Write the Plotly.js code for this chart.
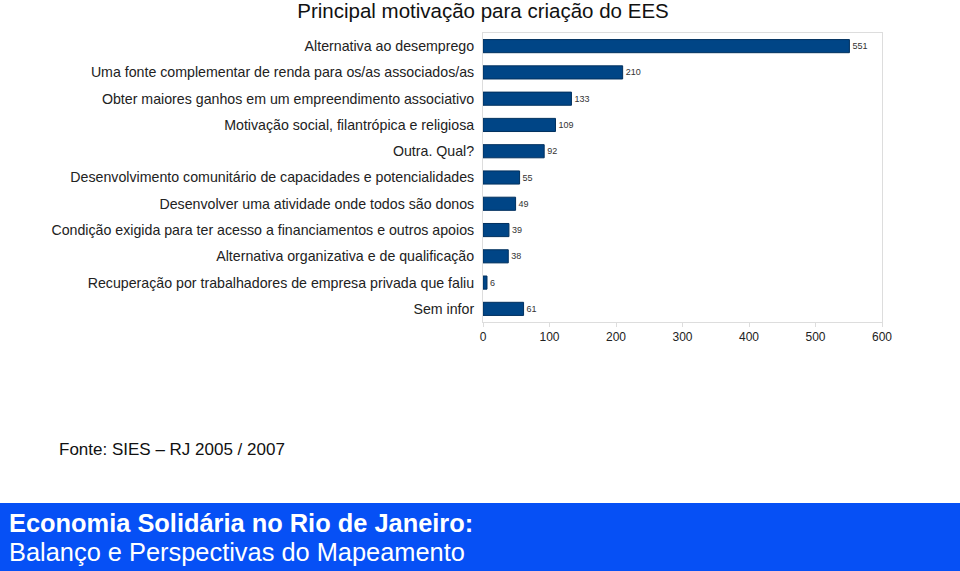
<!DOCTYPE html>
<html><head><meta charset="utf-8">
<script src="https://cdn.plot.ly/plotly-3.0.1.min.js"></script>
<style>html,body{margin:0;padding:0;background:#fff;}#chart{width:960px;height:571px;}</style>
</head><body><div id="chart"></div>
<script>
const categories = [
  "Alternativa ao desemprego",
  "Uma fonte complementar de renda para os/as associados/as",
  "Obter maiores ganhos em um empreendimento associativo",
  "Motivação social, filantrópica e religiosa",
  "Outra. Qual?",
  "Desenvolvimento comunitário de capacidades e potencialidades",
  "Desenvolver uma atividade onde todos são donos",
  "Condição exigida para ter acesso a financiamentos e outros apoios",
  "Alternativa organizativa e de qualificação",
  "Recuperação por trabalhadores de empresa privada que faliu",
  "Sem infor"
];
const values = [551, 210, 133, 109, 92, 55, 49, 39, 38, 6, 61];
const xTicks = [0, 100, 200, 300, 400, 500, 600];

const L = 483, R = 882, T = 33, B = 322, W = 960, H = 571;
const pw = R - L, ph = B - T;
const px = x => (x - L) / pw;
const py = y => (B - y) / ph;

const trace = {
  type: 'bar', orientation: 'h',
  x: values, y: categories,
  marker: {color: '#004586', line: {color: '#00305e', width: 1}},
  text: values.map(String), textposition: 'outside',
  textfont: {family: 'Liberation Sans, Arial, sans-serif', size: 9, color: '#333'},
  cliponaxis: false,
  hoverinfo: 'none'
};

const layout = {
  width: W, height: H,
  margin: {l: L, r: W - R, t: T, b: H - B, pad: 0},
  paper_bgcolor: '#fff', plot_bgcolor: '#fff',
  showlegend: false,
  bargap: 0.5,
  font: {family: 'Liberation Sans, Arial, sans-serif', color: '#222'},
  title: {text: 'Principal motivação para criação do EES', x: 483 / W, xanchor: 'center',
          y: 1 - 11 / H, yanchor: 'middle', xref: 'container', yref: 'container',
          font: {size: 20.5, color: '#111'}},
  xaxis: {range: [0, 600], tickvals: xTicks, ticktext: xTicks.map(String),
          showgrid: false, zeroline: false, showline: true, linecolor: '#ddd', mirror: true,
          ticks: 'outside', ticklen: 4, tickcolor: '#ddd',
          tickfont: {size: 12, color: '#222'}, fixedrange: true},
  yaxis: {autorange: 'reversed', showgrid: false, zeroline: false, showline: true,
          linecolor: '#ddd', mirror: true, ticks: 'outside', ticklen: 3, tickcolor: '#fff',
          ticklabelstandoff: 2,
          tickfont: {size: 14.2, color: '#222'}, fixedrange: true},
  shapes: [
    {type: 'rect', xref: 'paper', yref: 'paper', x0: px(0), x1: px(W), y0: py(503), y1: py(H),
     fillcolor: '#0650f5', line: {width: 0}, layer: 'below'}
  ],
  annotations: [
    {xref: 'paper', yref: 'paper', x: px(57), y: py(449), xanchor: 'left', yanchor: 'middle',
     text: 'Fonte: SIES – RJ 2005 / 2007', showarrow: false, font: {size: 17, color: '#111'}},
    {xref: 'paper', yref: 'paper', x: px(7), y: py(523), xanchor: 'left', yanchor: 'middle',
     text: '<b>Economia Solidária no Rio de Janeiro:</b>', showarrow: false, font: {size: 25.4, color: '#fff'}},
    {xref: 'paper', yref: 'paper', x: px(7), y: py(552), xanchor: 'left', yanchor: 'middle',
     text: 'Balanço e Perspectivas do Mapeamento', showarrow: false, font: {size: 25.4, color: '#fff'}}
  ]
};

Plotly.newPlot('chart', [trace], layout, {displayModeBar: false, staticPlot: true});
</script></body></html>
